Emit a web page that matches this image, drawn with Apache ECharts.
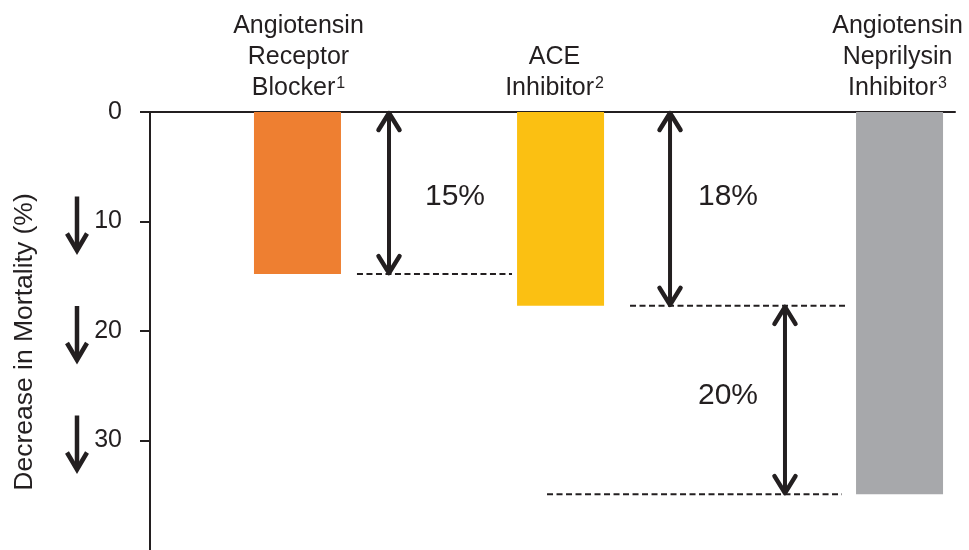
<!DOCTYPE html>
<html>
<head>
<meta charset="utf-8">
<script src="https://cdn.jsdelivr.net/npm/echarts@6/dist/echarts.min.js"></script>
<style>
  html, body { margin: 0; padding: 0; background: #fff; }
  #chart { width: 969px; height: 550px; }
</style>
</head>
<body>
<div id="chart"></div>
<script>
// data
let categories = [["Angiotensin", "Receptor", "Blocker"], ["ACE", "Inhibitor"], ["Angiotensin", "Neprilysin", "Inhibitor"]];
let footnotes = ["1", "2", "3"];
let mortalityDecrease = [14.8, 17.7, 34.9];
let reductionLabels = ["15%", "18%", "20%"];
let yTickValues = [0, 10, 20, 30];
let downArrowTicks = [10, 20, 30];

// layout (x in hidden axis units 0..100)
let barX = [18.32, 51.0, 93.11];
let barLabelShift = [1, -6, -2];
let comparisons = [
  { from: null, to: 0, arrowX: 29.69, labelX: 37.89, labelY: 7.7 },
  { from: null, to: 1, arrowX: 64.6, labelX: 71.8, labelY: 7.7 },
  { from: 1, to: 2, arrowX: 78.88, labelX: 71.8, labelY: 25.9 }
];
let guides = [
  { bar: 0, x1: 25.71, x2: 44.97 },
  { bar: 1, x1: 59.63, x2: 86.34 },
  { bar: 2, x1: 49.32, x2: 85.96 }
];

let ink = "#231f20";
let font = "'Liberation Sans', Arial, sans-serif";
let barColors = ["#ee7f31", "#fbc012", "#a7a8ab"];

function val(i) {
  return i === null ? 0 : mortalityDecrease[i];
}

let option = {
  backgroundColor: "#fff",
  animation: false,
  textStyle: { fontFamily: font },
  grid: { left: 150, right: 14, top: 112, height: 440 },
  xAxis: {
    type: "value",
    min: 0,
    max: 100,
    axisLine: { show: true, onZero: true, lineStyle: { color: ink, width: 2 } },
    axisTick: { show: false },
    axisLabel: { show: false },
    splitLine: { show: false }
  },
  yAxis: {
    type: "value",
    inverse: true,
    min: 0,
    max: 40,
    interval: 10,
    name: "Decrease in Mortality (%)",
    nameLocation: "middle",
    nameRotate: 90,
    nameGap: 112,
    nameTextStyle: { color: ink, fontSize: 26.5, fontFamily: font, padding: [0, 22, 0, 0] },
    axisLine: { show: true, lineStyle: { color: ink, width: 2 } },
    axisTick: {
      show: true,
      inside: false,
      length: 10,
      customValues: yTickValues,
      lineStyle: { color: ink, width: 2 }
    },
    axisLabel: {
      margin: 28,
      color: ink,
      fontSize: 25,
      fontFamily: font,
      customValues: yTickValues
    },
    splitLine: { show: false }
  },
  series: [
    {
      type: "bar",
      barWidth: 87,
      data: mortalityDecrease.map(function(v, i) {
        return {
          value: [barX[i], v],
          itemStyle: { color: barColors[i] },
          label: { offset: [barLabelShift[i], 0] }
        };
      }),
      label: {
        show: true,
        position: "top",
        distance: 8,
        color: ink,
        fontSize: 25,
        lineHeight: 31,
        fontFamily: font,
        align: "center",
        formatter: function(p) {
          let lines = categories[p.dataIndex].map(function(t) {
            return "{t|" + t + "}";
          });
          lines[lines.length - 1] += "{s|" + footnotes[p.dataIndex] + "}";
          return lines.join("\n");
        },
        rich: {
          t: { fontSize: 25, lineHeight: 31, color: ink, fontFamily: font },
          s: { fontSize: 16, lineHeight: 16, color: ink, fontFamily: font, padding: [0, 0, 10, 1] }
        }
      }
    },
    {
      // dashed guide lines at bar ends
      type: "custom",
      clip: false,
      silent: true,
      data: guides.map(function(g) {
        return [g.x1, g.x2, mortalityDecrease[g.bar]];
      }),
      renderItem: function(params, api) {
        let a = api.coord([api.value(0), api.value(2)]);
        let b = api.coord([api.value(1), api.value(2)]);
        return {
          type: "line",
          shape: { x1: a[0], y1: a[1], x2: b[0], y2: b[1] },
          style: { stroke: ink, lineWidth: 2, lineDash: [6, 3.5] }
        };
      }
    },
    {
      // double-headed arrows with reduction labels
      type: "custom",
      clip: false,
      silent: true,
      data: comparisons.map(function(c) {
        return [c.arrowX, val(c.from), val(c.to), c.labelX, c.labelY];
      }),
      renderItem: function(params, api) {
        let top = api.coord([api.value(0), api.value(1)]);
        let bot = api.coord([api.value(0), api.value(2)]);
        let lab = api.coord([api.value(3), api.value(4)]);
        let x = top[0];
        let hw = 10.5, hh = 18;
        let s = { stroke: ink, lineWidth: 4.5, lineJoin: "round", lineCap: "round", fill: null };
        return {
          type: "group",
          children: [
            {
              type: "line",
              shape: { x1: x, y1: top[1] + 2, x2: x, y2: bot[1] - 2 },
              style: { stroke: ink, lineWidth: 4 }
            },
            {
              type: "polyline",
              shape: { points: [[x - hw, top[1] + hh], [x, top[1] + 1], [x + hw, top[1] + hh]] },
              style: s
            },
            {
              type: "polyline",
              shape: { points: [[x - hw, bot[1] - hh], [x, bot[1] - 1], [x + hw, bot[1] - hh]] },
              style: s
            },
            {
              type: "text",
              x: lab[0],
              y: lab[1],
              style: {
                text: reductionLabels[params.dataIndex],
                fill: ink,
                fontSize: 30,
                fontFamily: font,
                align: "center",
                verticalAlign: "middle"
              }
            }
          ]
        };
      }
    },
    {
      // down arrows beside the y tick labels
      type: "custom",
      clip: false,
      silent: true,
      data: downArrowTicks.map(function(v) {
        return [0, v];
      }),
      renderItem: function(params, api) {
        let p = api.coord([api.value(0), api.value(1)]);
        let x = p[0] - 73;
        let y = p[1];
        return {
          type: "group",
          children: [
            {
              type: "line",
              shape: { x1: x, y1: y - 25, x2: x, y2: y + 28 },
              style: { stroke: ink, lineWidth: 4.5 }
            },
            {
              type: "polyline",
              shape: { points: [[x - 10, y + 12], [x, y + 29], [x + 10, y + 12]] },
              style: { stroke: ink, lineWidth: 4.5, lineJoin: "miter", fill: null }
            }
          ]
        };
      }
    }
  ]
};

let chart = echarts.init(document.getElementById("chart"), null, { renderer: "canvas" });
chart.setOption(option);
</script>
</body>
</html>
